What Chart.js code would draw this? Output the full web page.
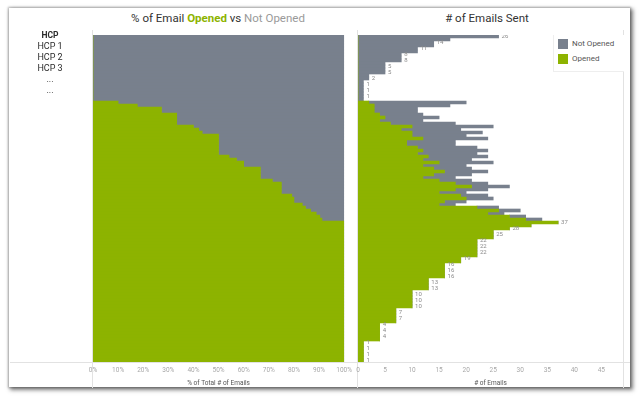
<!DOCTYPE html>
<html><head><meta charset="utf-8">
<script src="https://cdn.jsdelivr.net/npm/chart.js@4.4.1/dist/chart.umd.min.js"></script>
<style>
html,body{margin:0;padding:0;}
body{width:640px;height:400px;overflow:hidden;background:#fff;font-family:Roboto,"Noto Sans",sans-serif;position:relative;-webkit-font-smoothing:antialiased;}
#card{position:absolute;left:9px;top:8px;width:621px;height:379px;background:#fff;box-shadow:2px 2px 4px 1px rgba(0,0,0,.5),0 0 2px 1px rgba(0,0,0,.25);}
.abs{position:absolute;}
.title{position:absolute;top:11px;font-size:11.5px;color:#333;white-space:nowrap;transform:translateX(-50%);}
#hcp{position:absolute;left:20px;top:29px;width:60px;text-align:center;color:#2a2a2a;transform:translateZ(0);}
#hcp .h{font-weight:bold;font-size:8.5px;line-height:12px;}
#hcp .r{font-size:9px;line-height:11px;}
.vl{position:absolute;width:1px;background:#e2e2e2;}
.hl{position:absolute;height:1px;background:#e2e2e2;}
#legend{position:absolute;left:553px;top:35px;width:70px;height:36px;background:#fff;border-left:1px solid #eee;border-bottom:1px solid #eee;font-size:8px;color:#555;}
#legend .it{display:flex;align-items:center;height:13px;margin-top:2px;margin-left:4px;}
#legend .sw{width:10px;height:10px;margin-right:4px;}
</style></head>
<body>
<div id="card"></div>
<div class="vl" style="left:92px;top:30px;height:358px;"></div>
<div class="vl" style="left:357px;top:30px;height:358px;"></div>
<div class="vl" style="left:623px;top:30px;height:358px;"></div>
<div class="hl" style="left:10px;top:362px;width:620px;"></div>
<div class="title" style="left:218px;">% of Email <b style="color:#8db300">Opened</b> vs <span style="color:#9a9a9a">Not Opened</span></div>
<div class="title" style="left:487px;"># of Emails Sent</div>
<div id="hcp"></div>
<canvas id="left" class="abs" style="left:83px;top:35px;width:273px;height:355px;" width="273" height="355"></canvas>
<canvas id="right" class="abs" style="left:348px;top:35px;width:285px;height:355px;" width="285" height="355"></canvas>
<div id="legend"></div>
<script>
// ---- data ----
const hcpHeader = ['HCP 1', 'HCP 2', 'HCP 3', '...', '...'];
const seriesNames = ['Opened', 'Not Opened'];
const seriesColors = ['#8db300', '#78808d'];
// emails sent per HCP (rows top to bottom)
const sent = [
  26,17,14,14,11,11,8,8,8,5,5,5,5,2,2,1,1,1,1,1,1,1,
  20,17,11,11,12,15,12,18,25,19,23,20,24,18,18,22,24,22,24,21,
  25,20,21,24,21,18,21,24,28,24,20,24,25,20,18,26,30,27,31,34,
  37,32,28,25,25,25,22,22,22,22,22,22,19,19,16,16,16,16,16,13,13,13,13,
  10,10,10,10,10,10,7,7,7,7,7,4,4,4,4,4,4,1,1,1,1,1,1,1
];
// emails opened per HCP
const opened = [
  0,0,0,0,0,0,0,0,0,0,0,0,0,0,0,0,0,0,0,0,0,0,
  2,3,3,3,4,5,4,6,10,8,10,10,12,9,9,11,12,11,13,12,
  15,12,14,16,14,12,15,18,21,18,15,19,20,16,15,22,26,24,28,31,
  37,32,28,25,25,25,22,22,22,22,22,22,19,19,16,16,16,16,16,13,13,13,13,
  10,10,10,10,10,10,7,7,7,7,7,4,4,4,4,4,4,1,1,1,1,1,1,1
];
const hcps = sent.map((_, i) => 'HCP ' + (i + 1));
const notOpened = sent.map((s, i) => s - opened[i]);
const pctOpened = sent.map((s, i) => opened[i] / s * 100);
const pctNot = pctOpened.map(p => 100 - p);

// header text
document.getElementById('hcp').innerHTML = '<div class="h">HCP</div>' +
  hcpHeader.map(t => '<div class="r">' + t + '</div>').join('');
document.getElementById('legend').innerHTML = [1, 0].map(k =>
  '<div class="it"><div class="sw" style="background:' + seriesColors[k] + '"></div>' + seriesNames[k] + '</div>').join('');

const tickFont = {family: 'Roboto, sans-serif', size: 6.5};
function xAxis(opts) {
  return Object.assign({
    stacked: true,
    grid: {display: false, drawTicks: false},
    border: {display: false},
    ticks: {color: '#a8a8a8', font: tickFont, padding: 4, maxRotation: 0, autoSkip: false},
    title: {display: true, color: '#555', font: {family: 'Roboto, sans-serif', size: 6.5}, padding: {top: 0, bottom: 3}},
    afterFit: s => { s.height = 28; }
  }, opts);
}
const yAxis = {stacked: true, display: false};
const barDs = (label, data, color) => ({label, data, backgroundColor: color, borderWidth: 0,
  barPercentage: 1, categoryPercentage: 1});
const common = {
  indexAxis: 'y', responsive: false, animation: false, devicePixelRatio: 1,
  plugins: {legend: {display: false}, tooltip: {enabled: false}}
};

new Chart(document.getElementById('left'), {
  type: 'bar',
  data: {labels: hcps, datasets: [
    barDs(seriesNames[0], pctOpened, seriesColors[0]),
    barDs(seriesNames[1], pctNot, seriesColors[1])
  ]},
  options: Object.assign({}, common, {
    layout: {padding: {left: 10, right: 10, top: 0, bottom: 0}},
    scales: {
      x: xAxis({min: 0, max: 100, ticks: Object.assign({}, xAxis().ticks, {stepSize: 10, callback: v => v + '%'}),
        title: Object.assign({}, xAxis().title, {text: '% of Total # of Emails'})}),
      y: yAxis
    }
  })
});

const endLabels = {
  id: 'endLabels',
  afterDatasetsDraw(chart) {
    const ctx = chart.ctx, xs = chart.scales.x, ys = chart.scales.y;
    ctx.save();
    ctx.font = '6px Roboto, sans-serif';
    ctx.fillStyle = '#8a8a8a';
    ctx.textBaseline = 'middle';
    let last = -100;
    sent.forEach((s, i) => {
      if (opened[i] !== 0 && opened[i] !== s) return;
      const y = ys.getPixelForValue(i);
      if (y - last < 5) return;
      last = y;
      ctx.fillText(String(s), xs.getPixelForValue(s) + 3, y);
    });
    ctx.restore();
  }
};

new Chart(document.getElementById('right'), {
  type: 'bar',
  data: {labels: hcps, datasets: [
    barDs(seriesNames[0], opened, seriesColors[0]),
    barDs(seriesNames[1], notOpened, seriesColors[1])
  ]},
  options: Object.assign({}, common, {
    layout: {padding: {left: 10, right: 10, top: 0, bottom: 0}},
    scales: {
      x: xAxis({min: 0, max: 49, ticks: Object.assign({}, xAxis().ticks, {stepSize: 5,
          callback: v => (v % 5 === 0 ? v : null)}),
        title: Object.assign({}, xAxis().title, {text: '# of Emails'})}),
      y: yAxis
    }
  }),
  plugins: [endLabels]
});
</script>
</body></html>
